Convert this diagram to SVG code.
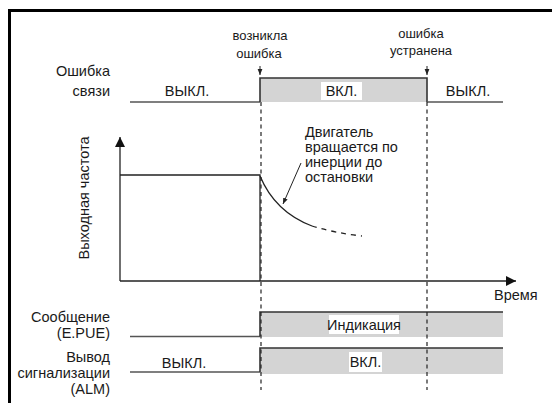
<svg xmlns="http://www.w3.org/2000/svg" width="552" height="403" viewBox="0 0 552 403">
<style>
text{font-family:"Liberation Sans","DejaVu Sans",sans-serif;font-size:14.5px;fill:#1a1a1a}
.sm{font-size:13px}
.r{text-anchor:end}
.c{text-anchor:middle}
.sig{fill:none;stroke:#555;stroke-width:1.6}
.band{fill:#d4d4d4;stroke:none}
.edge{fill:none;stroke:#333;stroke-width:1.6}
.dash{fill:none;stroke:#222;stroke-width:1.2;stroke-dasharray:4 3.5}
.ax{fill:none;stroke:#222;stroke-width:1.3}
.lbl{fill:#fff}
</style>
<defs>
<marker id="ah" viewBox="0 0 10 10" refX="10" refY="5" markerWidth="6" markerHeight="6" orient="auto" markerUnits="userSpaceOnUse">
<path d="M0,1 L10,5 L0,9 z" fill="#222"/>
</marker>
<marker id="big" viewBox="0 0 10 10" refX="10" refY="5" markerWidth="12" markerHeight="10" orient="auto" markerUnits="userSpaceOnUse">
<path d="M0,0 L10,5 L0,10 z" fill="#111"/>
</marker>
</defs>
<g id="frame">
<path d="M9.5,403 V10.5 H552" fill="none" stroke="#000" stroke-width="3"/>
</g>
<g id="comm-error">
<text class="r" x="110" y="76">Ошибка</text>
<text class="r" x="110" y="96">связи</text>
<rect class="band" x="260" y="78" width="167" height="24"/>
<path class="sig" d="M130,102 H260"/>
<path class="edge" d="M260,102 V78 H427 V102"/>
<path class="sig" d="M427,102 H503"/>
<text class="c" x="187" y="96">ВЫКЛ.</text>
<rect class="lbl" x="321" y="82" width="41" height="18"/>
<text class="c" x="341.5" y="96">ВКЛ.</text>
<text class="c" x="468" y="96">ВЫКЛ.</text>
</g>
<g id="event-start">
<text class="c sm" x="260" y="40">возникла</text>
<text class="c sm" x="259" y="58">ошибка</text>
</g>
<g id="event-end">
<text class="c sm" x="421" y="38">ошибка</text>
<text class="c sm" x="421" y="55">устранена</text>
</g>
<g id="freq-chart">
<text transform="translate(89,198) rotate(-90)" class="c">Выходная частота</text>
<path class="ax" d="M120,175 H260 V281"/>
<path d="M260,176 Q275,212 312,226" fill="none" stroke="#222" stroke-width="1.3"/>
<path d="M312,226 Q335,233 362,236" fill="none" stroke="#222" stroke-width="1.3" stroke-dasharray="5 5"/>
<text x="305" y="137">Двигатель</text>
<text x="305" y="152">вращается по</text>
<text x="305" y="167">инерции до</text>
<text x="305" y="182">остановки</text>
<text x="494" y="300">Время</text>
</g>
<g id="message">
<text class="r" x="110" y="322">Сообщение</text>
<text class="r" x="110" y="338">(E.PUE)</text>
<rect class="band" x="260" y="312" width="243" height="25"/>
<path class="sig" d="M130,336.5 H260"/>
<path class="edge" d="M260,336.5 V312 H503"/>
<rect class="lbl" x="329" y="315" width="70" height="19"/>
<text class="c" x="364" y="330">Индикация</text>
</g>
<g id="alarm">
<text class="r" x="110" y="362">Вывод</text>
<text class="r" x="110" y="378">сигнализации</text>
<text class="r" x="110" y="394">(ALM)</text>
<rect class="band" x="260" y="348" width="243" height="26"/>
<path class="sig" d="M130,372 H260"/>
<path class="edge" d="M260,372 V348 H503"/>
<text class="c" x="184" y="368">ВЫКЛ.</text>
<rect class="lbl" x="349" y="352" width="33" height="20"/>
<text class="c" x="365.5" y="367">ВКЛ.</text>
</g>
<g id="connectors">
<path class="dash" d="M261,102 V390"/>
<path class="dash" d="M427,102 V390"/>
<path d="M260,66 V75" stroke="#222" stroke-width="1" marker-end="url(#ah)"/>
<path d="M427,66 V75" stroke="#222" stroke-width="1" marker-end="url(#ah)"/>
<path d="M301,163 L283,204" stroke="#222" stroke-width="1" marker-end="url(#ah)"/>
<path class="ax" d="M120,281 V137" marker-end="url(#big)"/>
<path class="ax" d="M120,281 H516" marker-end="url(#big)"/>
</g>
</svg>
